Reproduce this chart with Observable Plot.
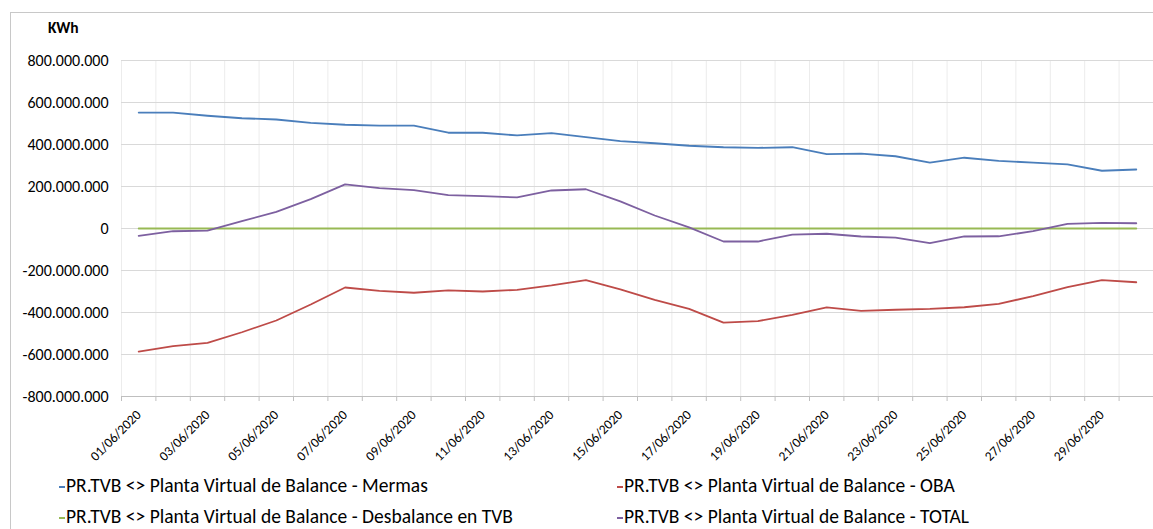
<!DOCTYPE html>
<html><head><meta charset="utf-8">
<script src="https://cdn.jsdelivr.net/npm/d3@7"></script>
<script src="https://cdn.jsdelivr.net/npm/@observablehq/plot@0.6"></script>
<style>
body{margin:0;background:#fff;font-family:Carlito,"Liberation Sans",sans-serif;}
#frame{position:absolute;left:10px;top:12px;width:1300px;height:700px;border-left:1px solid #c8c8c8;border-top:1px solid #c8c8c8;}
#chart{position:absolute;left:0;top:0;}
#unit{position:absolute;left:48px;top:18px;font-weight:bold;font-size:15.5px;line-height:19px;}
.leg{position:absolute;font-size:19.5px;line-height:22px;color:#000;white-space:nowrap;}
.leg span{display:inline-block;width:6px;height:2px;vertical-align:middle;margin-right:1px;}
</style></head>
<body>
<div id="frame"></div>
<div id="chart"></div>
<div id="unit">KWh</div>
<div id="legend"></div>
<script>
const dates = ["01/06/2020","02/06/2020","03/06/2020","04/06/2020","05/06/2020","06/06/2020","07/06/2020","08/06/2020","09/06/2020","10/06/2020",
"11/06/2020","12/06/2020","13/06/2020","14/06/2020","15/06/2020","16/06/2020","17/06/2020","18/06/2020","19/06/2020","20/06/2020",
"21/06/2020","22/06/2020","23/06/2020","24/06/2020","25/06/2020","26/06/2020","27/06/2020","28/06/2020","29/06/2020","30/06/2020"];

const mermas = [552e6,552e6,537e6,525e6,519e6,503e6,494e6,490e6,490e6,456e6,
456e6,443e6,454e6,435e6,416e6,406e6,394e6,387e6,384e6,387e6,
354e6,357e6,344e6,314e6,337e6,322e6,314e6,305e6,275e6,281e6];

const oba = [-586e6,-560e6,-545e6,-494e6,-438e6,-362e6,-281e6,-297e6,-306e6,-295e6,
-300e6,-292e6,-271e6,-246e6,-290e6,-340e6,-383e6,-448e6,-441e6,-411e6,
-376e6,-392e6,-387e6,-383e6,-375e6,-359e6,-322e6,-279e6,-246e6,-256e6];

const desbalance = [0,0,0,0,0,0,0,0,0,0,0,0,0,0,0,0,0,0,0,0,0,0,0,0,0,0,0,0,0,0];

const total = [-35e6,-13e6,-10e6,35e6,79e6,140e6,210e6,192e6,183e6,159e6,
154e6,148e6,181e6,187e6,129e6,62e6,5e6,-62e6,-62e6,-29e6,
-25e6,-38e6,-43e6,-70e6,-38e6,-37e6,-13e6,22e6,27e6,25e6];

const seriesNames = [
  "PR.TVB <> Planta Virtual de Balance - Mermas",
  "PR.TVB <> Planta Virtual de Balance - OBA",
  "PR.TVB <> Planta Virtual de Balance - Desbalance en TVB",
  "PR.TVB <> Planta Virtual de Balance - TOTAL"
];
const seriesColors = ["#4a7ebb","#be4b48","#98b954","#7d60a0"];
const yTicks = [-800e6,-600e6,-400e6,-200e6,0,200e6,400e6,600e6,800e6];

const seriesValues = [mermas, oba, desbalance, total];
const rows = [];
seriesValues.forEach((vals, k) => vals.forEach((v, i) => rows.push({i, v, s: seriesNames[k]})));
const bounds = d3.range(dates.length + 1).map(i => i - 0.5);
const labelIdx = d3.range(0, dates.length, 2);

const yFmt = d3.formatLocale({decimal:",", thousands:".", grouping:[3], currency:["",""], minus:"-"}).format(",");
const font = "Carlito, 'Liberation Sans', sans-serif";

const chart = Plot.plot({
  width: 1153, height: 470,
  marginLeft: 121, marginRight: 0, marginTop: 60, marginBottom: 74,
  style: {fontFamily: font, fontSize: "12px", color: "#000", background: "transparent"},
  x: {type: "linear", domain: [-0.5, dates.length - 0.5]},
  y: {domain: [-800e6, 800e6]},
  color: {domain: seriesNames, range: seriesColors},
  marks: [
    Plot.gridX(bounds, {stroke: "#ececec", strokeOpacity: 1}),
    Plot.gridY(yTicks, {stroke: "#d9d9d9", strokeOpacity: 1}),
    Plot.axisY(yTicks, {tickSize: 0, tickPadding: 13, tickFormat: yFmt, fontSize: 16, label: null}),
    Plot.ruleY([-800e6], {stroke: "#bfbfbf"}),
    Plot.axisX(bounds, {tickSize: 5, tickFormat: () => "", stroke: "#bfbfbf", label: null}),
    Plot.axisX(labelIdx, {tickSize: 0, tickRotate: -45, tickPadding: 16, tickFormat: i => dates[i], fontSize: 13.5, label: null}),
    Plot.line(rows, {x: "i", y: "v", z: "s", stroke: "s", strokeWidth: 1.8})
  ]
});
document.getElementById("chart").appendChild(chart);

const legPos = [[59,474],[617,474],[59,505],[617,505]];
const leg = document.getElementById("legend");
seriesNames.forEach((n, k) => {
  const d = document.createElement("div");
  d.className = "leg";
  d.style.left = legPos[k][0] + "px";
  d.style.top = legPos[k][1] + "px";
  const sw = document.createElement("span");
  sw.style.background = seriesColors[k];
  d.appendChild(sw);
  d.appendChild(document.createTextNode(n));
  leg.appendChild(d);
});
</script>
</body></html>
